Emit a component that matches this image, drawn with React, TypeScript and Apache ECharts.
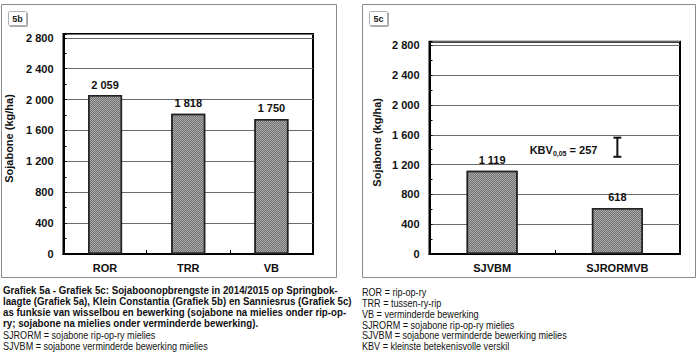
import React, { useEffect, useRef } from "react";
import * as echarts from "echarts";

const leftCategories = ["ROR", "TRR", "VB"];
const leftValues = [2059, 1818, 1750];
const rightCategories = ["SJVBM", "SJRORMVB"];
const rightValues = [1119, 618];
const kbvValue = 257;
const kbvLow = 1305;
const kbvHigh = 1562;
const kbvCategoryIndex = 1;
const yTicks = [0, 400, 800, 1200, 1600, 2000, 2400, 2800];
const yTitle = "Sojabone (kg/ha)";
const leftCaptionBold = [
  "Grafiek 5a - Grafiek 5c: Sojaboonopbrengste in 2014/2015 op Springbok-",
  "laagte (Grafiek 5a), Klein Constantia (Grafiek 5b) en Sanniesrus (Grafiek 5c)",
  "as funksie van wisselbou en bewerking (sojabone na mielies onder rip-op-",
  "ry; sojabone na mielies onder verminderde bewerking).",
];
const leftCaptionNormal = [
  "SJRORM = sojabone rip-op-ry mielies",
  "SJVBM = sojabone verminderde bewerking mielies",
];
const rightCaption = [
  "ROR = rip-op-ry",
  "TRR = tussen-ry-rip",
  "VB = verminderde bewerking",
  "SJRORM = sojabone rip-op-ry mielies",
  "SJVBM = sojabone verminderde bewerking mielies",
  "KBV = kleinste betekenisvolle verskil",
];

const FONT = "'Liberation Sans', Arial, sans-serif";
const CAP_FONT = "'Liberation Sans', Arial, sans-serif";
const CAP_SIZE = 10.5;

const fmt = (v: number) => {
  const s = String(Math.round(v));
  return s.length > 3 ? s.slice(0, s.length - 3) + " " + s.slice(s.length - 3) : s;
};

function measure(text: string, bold: boolean) {
  const c = document.createElement("canvas").getContext("2d");
  if (!c) return text.length * CAP_SIZE * 0.5;
  c.font = (bold ? "bold " : "") + CAP_SIZE + "px " + CAP_FONT;
  return c.measureText(text).width;
}

function yAxis(gridIndex: number, nameGap: number) {
  return {
    type: "value",
    gridIndex,
    min: 0,
    max: 2850,
    interval: 400,
    name: yTitle,
    nameLocation: "middle",
    nameGap,
    nameRotate: 90,
    nameTextStyle: {
      fontFamily: FONT,
      fontWeight: "bold",
      fontSize: 11,
      color: "#111",
      padding: [0, 0, 0, 11],
    },
    axisLine: { show: true, lineStyle: { color: "#000", width: 2 } },
    axisTick: { show: true, inside: true, length: 3, lineStyle: { color: "#000" } },
    minorTick: { show: true, splitNumber: 2, length: 3, lineStyle: { color: "#000" } },
    axisLabel: {
      showMaxLabel: false,
      margin: 10,
      fontFamily: FONT,
      fontWeight: "bold",
      fontSize: 11,
      color: "#111",
      formatter: (v: number) => (yTicks.includes(v) ? fmt(v) : ""),
    },
    splitLine: { show: true, lineStyle: { color: "#6a6a6a", width: 1 } },
  };
}

function xAxis(gridIndex: number, data: string[]) {
  return {
    type: "category",
    gridIndex,
    data,
    axisLine: { show: true, lineStyle: { color: "#000", width: 2 } },
    axisTick: { show: true, inside: true, length: 4, lineStyle: { color: "#000" } },
    axisLabel: {
      margin: 8,
      fontFamily: FONT,
      fontWeight: "bold",
      fontSize: 11,
      color: "#111",
    },
  };
}

const barStyle = {
  color: "#ababab",
  borderColor: "#222",
  borderWidth: 1.5,
  decal: {
    symbol: "rect",
    symbolSize: 1,
    dashArrayX: [[1, 1], [0, 1, 1, 0]],
    dashArrayY: [1, 0],
    color: "#727272",
  },
};

const valueLabel = {
  show: true,
  position: "top",
  distance: 5,
  fontFamily: FONT,
  fontWeight: "bold",
  fontSize: 11,
  color: "#111",
  formatter: (p: any) => fmt(p.value),
};

function panelBox(x: number, y: number, w: number, h: number, tag: string) {
  return [
    {
      type: "rect",
      shape: { x, y, width: w, height: h },
      style: { fill: "none", stroke: "#8a8a8a", lineWidth: 1 },
      z: 0,
    },
    {
      type: "rect",
      shape: { x: x + 7, y: y + 7, width: 18, height: 14, r: 1 },
      style: {
        fill: "#fff",
        stroke: "#b0b0b0",
        lineWidth: 1,
        shadowColor: "rgba(0,0,0,0.35)",
        shadowBlur: 1,
        shadowOffsetX: 1,
        shadowOffsetY: 1,
      },
      z: 1,
    },
    {
      type: "text",
      x: x + 16,
      y: y + 14,
      style: {
        text: tag,
        fontFamily: FONT,
        fontWeight: "bold",
        fontSize: 9,
        fill: "#222",
        align: "center",
        verticalAlign: "middle",
      },
      z: 2,
    },
  ];
}

export default function App() {
  const ref = useRef<HTMLDivElement>(null);
  useEffect(() => {
    if (!ref.current) return;
    const chart = echarts.init(ref.current, undefined, { renderer: "svg" });

    const boldScale = 335 / measure(leftCaptionBold[0], true);
    const normalScale = 205 / measure(leftCaptionNormal[1], false);

    const captionText = (t: string, x: number, y: number, bold: boolean) => ({
      type: "text",
      x,
      y,
      scaleX: bold ? boldScale : normalScale,
      style: {
        text: t,
        fontFamily: CAP_FONT,
        fontWeight: bold ? "bold" : "normal",
        fontSize: CAP_SIZE,
        fill: "#111",
        verticalAlign: "middle",
      },
    });

    const captionGraphics: any[] = [];
    leftCaptionBold.forEach((t, i) => captionGraphics.push(captionText(t, 3, 290 + i * 11.2, true)));
    leftCaptionNormal.forEach((t, i) =>
      captionGraphics.push(captionText(t, 3, 290 + (i + 4) * 11.2, false))
    );
    rightCaption.forEach((t, i) => captionGraphics.push(captionText(t, 362, 292.5 + i * 10.8, false)));

    chart.setOption({
      animation: false,
      backgroundColor: "#fff",
      grid: [
        { left: 63.5, top: 34, width: 249.5, height: 220, show: true, borderColor: "#000", borderWidth: 2, containLabel: false },
        { left: 429.5, top: 41.7, width: 250.5, height: 212.3, show: true, borderColor: "#000", borderWidth: 2, containLabel: false },
      ],
      xAxis: [xAxis(0, leftCategories), xAxis(1, rightCategories)],
      yAxis: [yAxis(0, 49), yAxis(1, 47)],
      series: [
        {
          type: "bar",
          xAxisIndex: 0,
          yAxisIndex: 0,
          data: leftValues,
          barWidth: 34,
          itemStyle: barStyle,
          label: valueLabel,
          z: 3,
        },
        {
          type: "bar",
          xAxisIndex: 1,
          yAxisIndex: 1,
          data: rightValues,
          barWidth: 51,
          itemStyle: barStyle,
          label: valueLabel,
          z: 3,
        },
        {
          type: "custom",
          xAxisIndex: 1,
          yAxisIndex: 1,
          data: [[kbvCategoryIndex, kbvLow, kbvHigh]],
          z: 4,
          renderItem: (params: any, api: any) => {
            const lo = api.coord([api.value(0), api.value(1)]);
            const hi = api.coord([api.value(0), api.value(2)]);
            const x = lo[0];
            const cap = 4;
            const ls = { stroke: "#111", lineWidth: 2 };
            return {
              type: "group",
              children: [
                { type: "line", shape: { x1: x, y1: lo[1], x2: x, y2: hi[1] }, style: ls },
                { type: "line", shape: { x1: x - cap, y1: lo[1], x2: x + cap, y2: lo[1] }, style: ls },
                { type: "line", shape: { x1: x - cap, y1: hi[1], x2: x + cap, y2: hi[1] }, style: ls },
                {
                  type: "text",
                  x: x - 20,
                  y: (lo[1] + hi[1]) / 2 + 3,
                  style: {
                    text: "{b|KBV}{s|0,05}{b| = " + kbvValue + "}",
                    align: "right",
                    verticalAlign: "middle",
                    rich: {
                      b: { fontFamily: FONT, fontWeight: "bold", fontSize: 11, fill: "#111", color: "#111" },
                      s: { fontFamily: FONT, fontWeight: "bold", fontSize: 7, fill: "#111", color: "#111", padding: [6, 0, 0, 0] },
                    },
                  },
                },
              ],
            };
          },
        },
      ],
      graphic: [
        ...panelBox(1.5, 4.5, 335, 273, "5b"),
        ...panelBox(362.5, 4.5, 333, 273, "5c"),
        ...captionGraphics,
      ],
    });
    return () => chart.dispose();
  }, []);
  return (
    <div
      ref={ref}
      style={{ position: "absolute", left: 0, top: 0, width: 700, height: 352 }}
    />
  );
}
